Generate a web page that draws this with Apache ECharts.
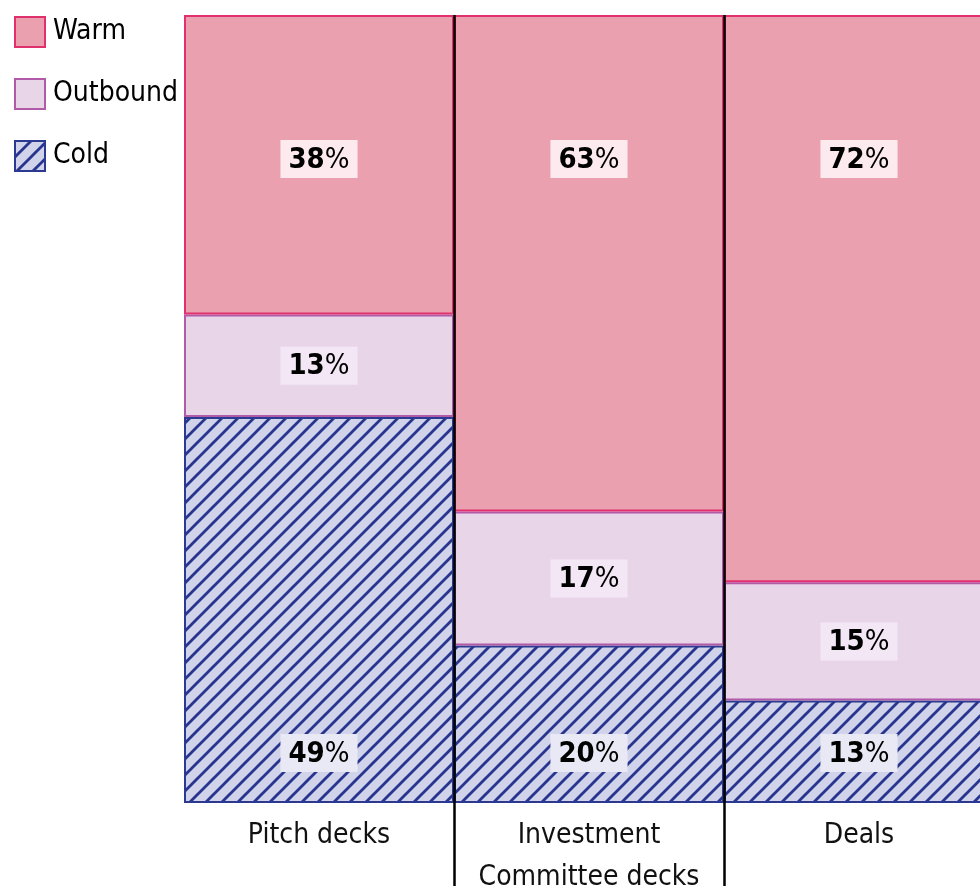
<!DOCTYPE html>
<html>
<head>
<meta charset="utf-8">
<script src="https://cdn.jsdelivr.net/npm/echarts@6/dist/echarts.min.js"></script>
<style>
html,body{margin:0;padding:0;background:#fff;}
#chart{width:980px;height:889px;}
</style>
</head>
<body>
<div id="chart"></div>
<script>
var categories = ['Pitch decks', 'Investment\nCommittee decks', 'Deals'];
var warm = [38, 63, 72];
var outbound = [13, 17, 15];
var cold = [49, 20, 13];
var legendNames = ['Warm', 'Outbound', 'Cold'];

var FONT = "'DejaVu Sans Condensed', 'Liberation Sans Narrow', sans-serif";

function hatch() {
  var s = 16;
  var c = document.createElement('canvas');
  c.width = s; c.height = s;
  var g = c.getContext('2d');
  g.fillStyle = '#d0d3ea';
  g.fillRect(0, 0, s, s);
  g.strokeStyle = '#27358f';
  g.lineWidth = 2.8;
  g.beginPath();
  g.moveTo(0, s); g.lineTo(s, 0);
  g.moveTo(-s, s); g.lineTo(s, -s);
  g.moveTo(0, 2 * s); g.lineTo(2 * s, 0);
  g.stroke();
  return c;
}

function lbl(bg, pos, dist) {
  return {
    show: true,
    position: pos,
    distance: dist,
    backgroundColor: bg,
    padding: [4, 8, 2, 8],
    formatter: function (p) { return '{b|' + p.value + '}{p|%}'; },
    rich: {
      b: { fontFamily: FONT, fontWeight: 'bold', fontSize: 29, color: '#000', lineHeight: 32 },
      p: { fontFamily: FONT, fontWeight: 'normal', fontSize: 29, color: '#000', lineHeight: 32 }
    }
  };
}

var chart = echarts.init(document.getElementById('chart'));
chart.setOption({
  animation: false,
  legend: {
    data: legendNames,
    orient: 'vertical',
    icon: 'rect',
    left: 14,
    top: 16,
    padding: 0,
    itemWidth: 30,
    itemHeight: 30,
    itemGap: 30,
    selectedMode: false,
    textStyle: { fontFamily: FONT, fontSize: 28, color: '#000', padding: [0, 0, 0, 3] }
  },
  grid: { left: 184, width: 810, top: 15, bottom: 86, outerBoundsMode: 'none', containLabel: false },
  xAxis: {
    type: 'category',
    data: categories,
    axisLine: { show: false },
    axisTick: {
      show: true,
      length: 83,
      interval: function (i) { return i > 0; },
      lineStyle: { color: '#000', width: 2.5 }
    },
    splitLine: {
      show: true,
      interval: function (i) { return i > 0; },
      lineStyle: { color: '#000', width: 2.5 }
    },
    axisLabel: {
      interval: 0,
      fontFamily: FONT, fontSize: 28, color: '#111', margin: 12, lineHeight: 42
    },
    z: 10
  },
  yAxis: {
    type: 'value', min: 0, max: 100, show: false, splitLine: { show: false }
  },
  series: [
    {
      name: 'Cold', type: 'bar', stack: 't', data: cold, barCategoryGap: '0%',
      itemStyle: { color: { image: hatch(), repeat: 'repeat' }, borderColor: '#2b3990', borderWidth: 2 },
      label: lbl('#e9e9f6', 'insideBottom', 31)
    },
    {
      name: 'Outbound', type: 'bar', stack: 't', data: outbound,
      itemStyle: { color: '#e8d5e8', borderColor: '#b05aa8', borderWidth: 2 },
      label: lbl('#f3e7f5', 'inside', 0)
    },
    {
      name: 'Warm', type: 'bar', stack: 't', data: warm,
      itemStyle: { color: '#eba0b0', borderColor: '#e0306e', borderWidth: 2 },
      label: lbl('#fdeaef', 'insideTop', 125)
    }
  ]
});
</script>
</body>
</html>
